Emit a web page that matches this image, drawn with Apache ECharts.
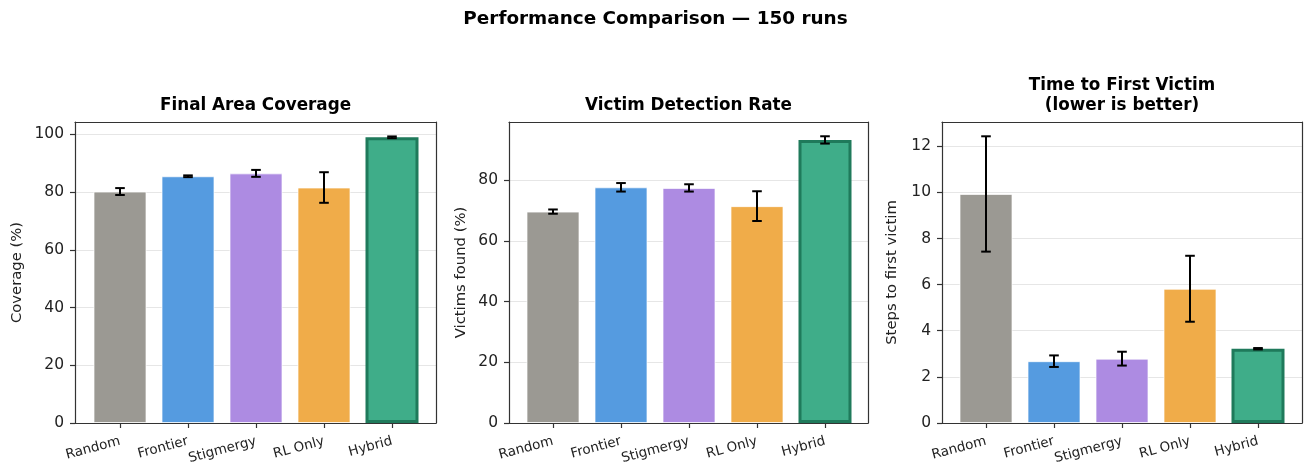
<!DOCTYPE html>
<html>
<head>
<meta charset="utf-8">
<script src="https://cdn.jsdelivr.net/npm/echarts@6/dist/echarts.min.js"></script>
<style>
  html, body { margin: 0; padding: 0; background: #fff; }
  #chart { width: 1311px; height: 474px; }
</style>
</head>
<body>
<div id="chart"></div>
<script>
// data
const categories = ['Random', 'Frontier', 'Stigmergy', 'RL Only', 'Hybrid'];
const barColors = ['#9b9993', '#559be0', '#ad8be2', '#f0ac49', '#3fad89'];

const coverageMean = [80.2, 85.5, 86.5, 81.6, 99.0];
const coverageErr = [1.2, 0.3, 1.2, 5.3, 0.3];
const coverageTicks = [0, 20, 40, 60, 80, 100];
const coverageMax = 104.3;

const victimsMean = [69.6, 77.6, 77.4, 71.4, 93.2];
const victimsErr = [0.7, 1.4, 1.2, 4.9, 1.2];
const victimsTicks = [0, 20, 40, 60, 80];
const victimsMax = 99.1;

const firstMean = [9.93, 2.68, 2.79, 5.82, 3.22];
const firstErr = [2.5, 0.25, 0.3, 1.43, 0.03];
const firstTicks = [0, 2, 4, 6, 8, 10, 12];
const firstMax = 13.05;

const FONT = 'DejaVu Sans';

// panel layout (px)
const panels = [
  { title: 'Final Area Coverage', yName: 'Coverage (%)', nameGap: 50,
    mean: coverageMean, err: coverageErr, ticks: coverageTicks, max: coverageMax,
    left: 75, width: 361, barLeft: 86, barWidth: 340 },
  { title: 'Victim Detection Rate', yName: 'Victims found (%)', nameGap: 40,
    mean: victimsMean, err: victimsErr, ticks: victimsTicks, max: victimsMax,
    left: 509, width: 359, barLeft: 519, barWidth: 340 },
  { title: 'Time to First Victim\n(lower is better)', yName: 'Steps to first victim', nameGap: 42,
    mean: firstMean, err: firstErr, ticks: firstTicks, max: firstMax,
    left: 942, width: 360, barLeft: 952, barWidth: 340 }
];
const TOP = 122, HEIGHT = 301;

const grid = [], xAxis = [], yAxis = [], series = [], graphic = [];

panels.forEach((p) => {
  const gA = grid.length;
  grid.push({ left: p.left, top: TOP, width: p.width, height: HEIGHT });
  const gB = grid.length;
  grid.push({ left: p.barLeft, top: TOP, width: p.barWidth, height: HEIGHT });

  const spine = { show: true, onZero: false, lineStyle: { color: '#333', width: 1.2 } };
  const frameAxis = (pos) => ({
    type: 'value', gridIndex: gA, position: pos, min: 0, max: 1, z: 10,
    axisLine: spine, axisTick: { show: false }, axisLabel: { show: false }, splitLine: { show: false }
  });
  xAxis.push(frameAxis('bottom'));
  xAxis.push(frameAxis('top'));
  const xB = xAxis.length;
  xAxis.push({
    type: 'category', gridIndex: gB, data: categories, z: 10,
    axisLine: { show: false },
    axisTick: { show: true, alignWithLabel: true, interval: 0, length: 5, lineStyle: { color: '#333', width: 1.2 } },
    axisLabel: { interval: 0, hideOverlap: false, rotate: 15, fontFamily: FONT, fontSize: 13.5, color: '#222', margin: 18 }
  });

  yAxis.push({
    type: 'value', gridIndex: gA, min: 0, max: p.max,
    name: p.yName, nameLocation: 'middle', nameGap: p.nameGap,
    nameTextStyle: { fontFamily: FONT, fontSize: 14.8, color: '#222' },
    axisLine: { show: true, lineStyle: { color: '#333', width: 1.2 } },
    axisTick: { show: true, length: 5, lineStyle: { color: '#333', width: 1.2 }, customValues: p.ticks },
    axisLabel: { fontFamily: FONT, fontSize: 15.5, color: '#222', margin: 11, customValues: p.ticks },
    splitLine: { show: true, lineStyle: { color: '#e6e6e6', width: 1 } }
  });
  yAxis.push({
    type: 'value', gridIndex: gA, position: 'right', min: 0, max: 1, z: 10,
    axisLine: spine, axisTick: { show: false }, axisLabel: { show: false }, splitLine: { show: false }
  });
  const yB = yAxis.length;
  yAxis.push({ type: 'value', gridIndex: gB, min: 0, max: p.max, show: false });

  series.push({
    type: 'bar', xAxisIndex: xB, yAxisIndex: yB, barWidth: 53, z: 2,
    data: p.mean.map((v, i) => ({
      value: v,
      itemStyle: i === 4
        ? { color: barColors[i], borderColor: '#1f7a5b', borderWidth: 3 }
        : { color: barColors[i], borderColor: 'rgba(255,255,255,0.7)', borderWidth: 1 }
    }))
  });
  series.push({
    type: 'custom', xAxisIndex: xB, yAxisIndex: yB, z: 5,
    data: p.mean.map((v, i) => [i, v, p.err[i]]),
    renderItem: (params, api) => {
      const i = api.value(0), m = api.value(1), e = api.value(2);
      const t = api.coord([i, m + e]);
      const b = api.coord([i, m - e]);
      const cap = 4.8;
      const st = { stroke: '#000', lineWidth: 2 };
      return {
        type: 'group',
        children: [
          { type: 'line', shape: { x1: t[0], y1: t[1], x2: b[0], y2: b[1] }, style: st },
          { type: 'line', shape: { x1: t[0] - cap, y1: t[1], x2: t[0] + cap, y2: t[1] }, style: st },
          { type: 'line', shape: { x1: b[0] - cap, y1: b[1], x2: b[0] + cap, y2: b[1] }, style: st }
        ]
      };
    }
  });

  graphic.push({
    type: 'text', x: p.left + p.width / 2, y: TOP - 7,
    style: {
      text: p.title, font: 'bold 16.8px "DejaVu Sans"', fill: '#000',
      textAlign: 'center', textVerticalAlign: 'bottom', lineHeight: 19.5
    }
  });
});

const chart = echarts.init(document.getElementById('chart'));
chart.setOption({
  animation: false,
  backgroundColor: '#fff',
  title: {
    text: 'Performance Comparison — 150 runs', left: 'center', top: 5,
    textStyle: { fontFamily: FONT, fontSize: 18.4, fontWeight: 'bold', color: '#000' }
  },
  grid, xAxis, yAxis, series, graphic
});
</script>
</body>
</html>
